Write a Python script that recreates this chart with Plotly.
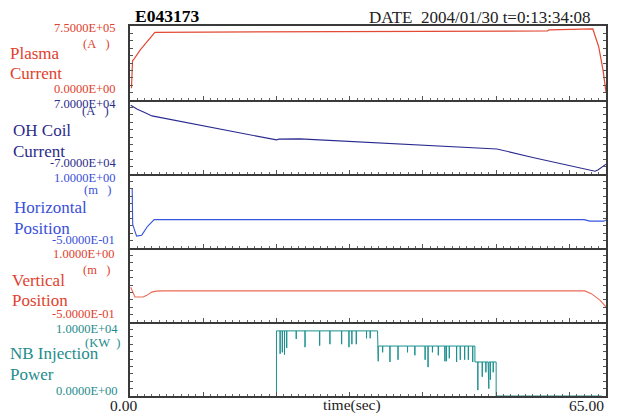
import plotly.graph_objects as go
from plotly.subplots import make_subplots

# ---------------- data ----------------
ip_time = [0.2, 0.35, 0.5, 1.4, 3.4, 10, 20, 30, 40, 50, 57.0, 57.2, 62.5, 63.2, 64.0, 64.6, 65.0]
ip_value = [1.2e5, 4.0e5, 4.1e5, 5.07e5, 6.86e5, 6.88e5, 6.90e5, 6.92e5, 6.95e5, 6.98e5, 7.0e5, 7.1e5, 7.15e5, 7.2e5, 5.4e5, 3.0e5, 0.8e5]

oh_time = [0.1, 1.0, 2.0, 3.0, 20.0, 20.3, 23.2, 27.7, 38.2, 44.6, 50.1, 55.0, 59.6, 63.5, 63.9, 65.0]
oh_value = [6.0e4, 5.27e4, 4.64e4, 3.99e4, -5.5e3, -4.0e3, -3.5e3, -6.7e3, -1.3e4, -1.76e4, -2.26e4, -3.87e4, -5.27e4, -6.48e4, -6.23e4, -5.14e4]

hp_time = [0.3, 0.37, 0.9, 1.6, 2.4, 3.3, 20.0, 40.0, 62.0, 62.8, 64.7, 65.0]
hp_value = [0.70, -0.02, -0.26, -0.24, -0.06, 0.075, 0.075, 0.075, 0.075, 0.045, 0.045, 0.07]

vp_time = [0.1, 0.68, 1.8, 2.3, 2.96, 3.6, 4.5, 62.1, 63.0, 64.2, 65.0]
vp_value = [0.206, 0.006, 0.006, 0.04, 0.106, 0.126, 0.13, 0.13, 0.074, -0.06, -0.194]

# NB injection: step levels (start, end, level) and downward spikes (time, minimum)
nb_steps = [(20.0, 33.8, 8800), (33.8, 47.1, 6750), (47.1, 50.0, 4600)]
nb_spikes = [(20.5, 5700), (20.8, 5900), (21.1, 5600), (21.4, 6500), (22.7, 7700), (23.9, 6600),
             (25.9, 6800), (27.3, 7000), (28.9, 7000), (29.9, 6600), (30.3, 7000), (30.9, 7000),
             (32.3, 7800), (32.8, 7800),
             (33.9, 4700), (34.5, 5900), (35.5, 4600), (36.6, 4900), (37.9, 5900), (38.9, 5500),
             (40.3, 4900), (40.7, 3900), (41.3, 5900), (42.1, 5500), (43.0, 4700), (43.2, 4700),
             (43.6, 5100), (44.6, 4600), (45.1, 4900), (45.7, 4900), (46.2, 4900), (46.8, 4600),
             (47.5, 800), (48.1, 2600), (48.6, 3200), (48.9, 2800), (49.0, 1000), (49.2, 2200),
             (49.6, 3200)]
nb_off = [(50.0, 0), (64.4, 0)]

nb_time, nb_value = [20.0], [0]
for s, e, lev in nb_steps:
    nb_time.append(s); nb_value.append(lev)
    for t, m in nb_spikes:
        if s < t < e:
            nb_time += [t, t, t]; nb_value += [lev, m, lev]
    nb_time.append(e); nb_value.append(lev)
for t, v in nb_off:
    nb_time.append(t); nb_value.append(v)

RED = "#E0412D"
NAVY = "#2C2C8A"
BLUE = "#3A4FD8"
TEAL = "#1E8C8C"

panels = [
    dict(t=ip_time, v=ip_value, rng=(0, 7.5e5), color=RED, lc="#E24A35", lw=1.2,
         top="7.5000E+05", bot="0.0000E+00", unit="(A\u00a0\u00a0\u00a0)", n1="Plasma", n2="Current"),
    dict(t=oh_time, v=oh_value, rng=(-7e4, 7e4), color=NAVY, lc="#2A2A90", lw=1.1,
         top="7.0000E+04", bot="-7.0000E+04", unit="(A\u00a0\u00a0\u00a0)", n1="OH Coil", n2="Current"),
    dict(t=hp_time, v=hp_value, rng=(-0.5, 1.0), color=BLUE, lc="#3355E0", lw=1.1,
         top="1.0000E+00", bot="-5.0000E-01", unit="(m\u00a0\u00a0\u00a0)", n1="Horizontal", n2="Position"),
    dict(t=vp_time, v=vp_value, rng=(-0.5, 1.0), color=RED, lc="#EC6A55", lw=1.1,
         top="1.0000E+00", bot="-5.0000E-01", unit="(m\u00a0\u00a0\u00a0)", n1="Vertical", n2="Position"),
    dict(t=nb_time, v=nb_value, rng=(0, 1e4), color=TEAL, lc="#1A8F8F", lw=1.0,
         top="1.0000E+04", bot="0.0000E+00", unit="(KW\u00a0\u00a0)", n1="NB Injection", n2="Power"),
]

W, H = 619, 416
L, R, T, B = 130, 606, 26, 396
FONT = "Liberation Serif, Times New Roman, serif"

fig = make_subplots(rows=5, cols=1, shared_xaxes=True, vertical_spacing=0)

for i, p in enumerate(panels, start=1):
    fig.add_trace(go.Scatter(x=p["t"], y=p["v"], mode="lines",
                             line=dict(color=p["lc"], width=p["lw"]),
                             hoverinfo="skip", showlegend=False), row=i, col=1)
    lo, hi = p["rng"]
    fig.update_yaxes(range=[lo, hi], tick0=lo, dtick=(hi - lo) / 10, ticks="inside",
                     ticklen=3, tickwidth=1, tickcolor="#555", showticklabels=False,
                     showline=True, mirror="ticks", linewidth=2, linecolor="#3a3a3a",
                     showgrid=False, zeroline=False, fixedrange=True, row=i, col=1)
    fig.update_xaxes(range=[0, 65], tick0=0, dtick=10, ticks="inside", ticklen=4,
                     tickwidth=1, tickcolor="#555", showticklabels=False,
                     minor=dict(dtick=1, ticks="inside", ticklen=2, tickwidth=1, tickcolor="#666"),
                     showline=True, mirror=(i == 1), linewidth=2, linecolor="#3a3a3a",
                     showgrid=False, zeroline=False, fixedrange=True, row=i, col=1)


def px(x):
    return (x - L) / (R - L)


def py(y):
    return (B - y) / (B - T)


annots = []


def add(text, x, y, anchor, size, color, bold=False):
    annots.append(dict(text=("<b>%s</b>" % text) if bold else text, x=px(x), y=py(y),
                       xref="paper", yref="paper", xanchor=anchor, yanchor="middle",
                       showarrow=False, font=dict(family=FONT, size=size, color=color)))


# label positions per panel (pixels)
label_pos = [
    dict(top=(118, 28), unit=(112, 44), n1=(8, 53), n2=(8, 73), bot=(118, 89)),
    dict(top=(118, 104), unit=(111, 111), n1=(11, 130), n2=(11, 151), bot=(118, 163)),
    dict(top=(118, 178), unit=(113, 190), n1=(12, 207), n2=(12, 228), bot=(117, 240)),
    dict(top=(117, 254), unit=(112, 270), n1=(10, 280), n2=(10, 300), bot=(117, 314)),
    dict(top=(120, 329), unit=(122, 343), n1=(8, 353), n2=(8, 374), bot=(120, 391)),
]

for p, lp in zip(panels, label_pos):
    c = p["color"]
    add(p["top"], *lp["top"], "right", 12.5, c)
    add(p["unit"], *lp["unit"], "right", 12.5, c)
    add(p["n1"], *lp["n1"], "left", 17, c)
    add(p["n2"], *lp["n2"], "left", 17, c)
    add(p["bot"], *lp["bot"], "right", 12.5, c)

add("E043173", 133, 16, "left", 17.5, "black", bold=True)
add("DATE\u00a0\u00a02004/01/30 t=0:13:34:08", 593, 17.5, "right", 17, "#222")
add("0.00", 123, 405, "center", 15.5, "#222")
add("time(sec)", 352, 405, "center", 15.5, "#222")
add("65.00", 606, 405, "right", 15.5, "#222")

fig.update_layout(width=W, height=H, autosize=False,
                  margin=dict(l=L, r=W - R, t=T, b=H - B, pad=0),
                  plot_bgcolor="white", paper_bgcolor="white",
                  annotations=annots, showlegend=False)

fig.write_html("out.html", config={"displayModeBar": False, "staticPlot": True},
               post_script="document.body.style.margin='0';document.body.style.padding='0';")
